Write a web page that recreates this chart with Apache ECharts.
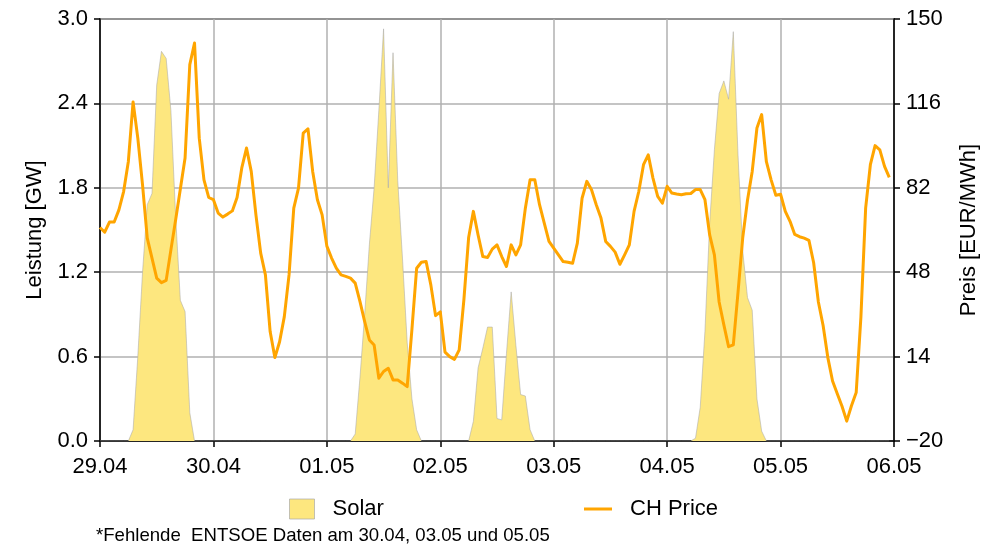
<!DOCTYPE html>
<html>
<head>
<meta charset="utf-8">
<script src="https://cdn.jsdelivr.net/npm/echarts@6/dist/echarts.min.js"></script>
<style>
html,body{margin:0;padding:0;background:#fff;}
#chart{width:995px;height:547px;}
</style>
</head>
<body>
<div id="chart"></div>
<script>
// x tick labels (one per day, 24 hourly steps apart)
const dayLabels = ['29.04','30.04','01.05','02.05','03.05','04.05','05.05','06.05'];

// Solar generation [GW], hourly, per day
const solar_2904 = [0,0,0,0,0,0,0,0.08,0.6,1.2,1.68,1.76,2.53,2.77,2.72,2.35,1.6,1.0,0.92,0.2,0,0,0,0];
const solar_3004 = [0,0,0,0,0,0,0,0,0,0,0,0,0,0,0,0,0,0,0,0,0,0,0,0];
const solar_0105 = [0,0,0,0,0,0,0.05,0.45,0.9,1.4,1.8,2.35,2.93,1.8,2.76,1.85,1.3,0.7,0.3,0.08,0,0,0,0];
const solar_0205 = [0,0,0,0,0,0,0,0.14,0.52,0.66,0.81,0.81,0.16,0.15,0.62,1.06,0.68,0.33,0.32,0.08,0,0,0,0];
const solar_0305 = [0,0,0,0,0,0,0,0,0,0,0,0,0,0,0,0,0,0,0,0,0,0,0,0];
const solar_0405 = [0,0,0,0,0,0,0.02,0.24,0.78,1.55,2.07,2.47,2.56,2.43,2.91,2.03,1.35,1.02,0.93,0.3,0.07,0,0,0];
const solar_0505 = [0,0,0,0,0,0,0,0,0,0,0,0,0,0,0,0,0,0,0,0,0,0,0,0];

// CH day-ahead price [EUR/MWh], hourly, per day
const price_2904 = [66.0,64.1,68.2,68.2,73.1,80.5,92.6,116.6,102,83.2,61.7,53.7,45.6,43.8,44.7,57,69,81.5,94,131.6,140.3,102,85.2,78.1];
const price_3004 = [77.2,71.8,70.2,71.4,72.7,78.1,90,98,88.6,71,55.7,46.9,24.1,13.6,20,30.1,46.9,73.8,81.9,104,105.8,88.6,77.2,71.1];
const price_0105 = [58.5,53.7,49.6,46.9,46.3,45.6,43.6,36.2,28.1,20.7,18.7,5.3,8.0,9.3,4.6,4.6,3.3,1.9,25,49.6,52,52.3,42.9,30.5];
const price_0205 = [32,15.8,14,12.9,16.7,37,62,72.5,63,54.3,53.9,57.3,59,54.3,50.3,59,55,59,73.8,85.2,85.2,75.2,67.8,60.4];
const price_0305 = [57.7,55,52.3,52,51.6,59.7,77.8,84.6,81.2,75.2,69.8,60.4,58.4,56.1,51.2,55,59,72.5,80.5,91.3,95.3,85.9,78.5,75.8];
const price_0405 = [82.6,79.9,79.5,79.2,79.6,79.7,81.3,81.3,77.2,63,55,36,26.8,18,18.7,40,62,77,88.6,106.1,111.5,92.5,85.2,79];
const price_0505 = [79.4,72.5,68.5,63.2,62.3,61.7,60.8,51.8,36,26.5,13.6,4.2,-1,-6,-12,-5.8,-0.5,30,73.8,91.3,99,97.3,90.6,86.2];

const solar = [].concat(solar_2904, solar_3004, solar_0105, solar_0205, solar_0305, solar_0405, solar_0505);
const price = [].concat(price_2904, price_3004, price_0105, price_0205, price_0305, price_0405, price_0505);

const solarData = solar.map((v, i) => [i, v]);
const priceData = price.map((v, i) => [i, v]);

const FONT = "'Liberation Sans', Arial, sans-serif";
const chart = echarts.init(document.getElementById('chart'), null, {renderer: 'canvas'});

chart.setOption({
  animation: false,
  backgroundColor: '#ffffff',
  textStyle: {fontFamily: FONT, color: '#000'},
  grid: {left: 100, right: 101, top: 19, bottom: 106, show: true, borderColor: '#000', borderWidth: 1.5, backgroundColor: 'transparent'},
  title: {
    text: '*Fehlende  ENTSOE Daten am 30.04, 03.05 und 05.05',
    left: 96, top: 526, padding: 0,
    textStyle: {fontFamily: FONT, fontSize: 18.6, fontWeight: 'normal', color: '#000'}
  },
  legend: [
    {
      data: [{name: 'Solar', icon: 'rect', itemStyle: {color: '#fde77f', borderColor: 'rgba(170,170,170,0.7)', borderWidth: 1}}],
      left: 289, top: 498, itemWidth: 25, itemHeight: 20, padding: 0,
      textStyle: {fontFamily: FONT, fontSize: 22, color: '#000', padding: [0, 0, 0, 13]}
    },
    {
      data: [{name: 'CH Price', icon: 'rect', itemStyle: {color: '#ffa500'}}],
      left: 584, top: 498, itemWidth: 28, itemHeight: 3, padding: 0,
      textStyle: {fontFamily: FONT, fontSize: 22, color: '#000', padding: [0, 0, 0, 13]}
    }
  ],
  xAxis: {
    type: 'value', min: 0, max: 168, interval: 24,
    axisLine: {show: true, lineStyle: {color: '#000', width: 1.5}},
    axisTick: {show: true, inside: false, length: 6, lineStyle: {color: '#000', width: 1.5}},
    axisLabel: {margin: 15, fontSize: 22, fontFamily: FONT, color: '#000',
      formatter: v => dayLabels[Math.round(v / 24)]},
    splitLine: {show: true, lineStyle: {color: '#b0b0b0', width: 1.5}}
  },
  yAxis: [
    {
      type: 'value', min: 0, max: 3, interval: 0.6, position: 'left',
      name: 'Leistung [GW]', nameLocation: 'middle', nameGap: 54,
      nameTextStyle: {fontSize: 22, fontFamily: FONT, color: '#000'},
      axisLine: {show: true, lineStyle: {color: '#000', width: 1.5}},
      axisTick: {show: true, inside: false, length: 6, lineStyle: {color: '#000', width: 1.5}},
      axisLabel: {margin: 12, fontSize: 22, fontFamily: FONT, color: '#000', formatter: v => v.toFixed(1)},
      splitLine: {show: true, lineStyle: {color: '#b0b0b0', width: 1.5}}
    },
    {
      type: 'value', min: -20, max: 150, interval: 34, position: 'right',
      name: 'Preis [EUR/MWh]', nameLocation: 'middle', nameGap: 64,
      nameTextStyle: {fontSize: 22, fontFamily: FONT, color: '#000'},
      axisLine: {show: true, lineStyle: {color: '#000', width: 1.5}},
      axisTick: {show: true, inside: false, length: 6, lineStyle: {color: '#000', width: 1.5}},
      axisLabel: {margin: 12, fontSize: 22, fontFamily: FONT, color: '#000',
        formatter: v => (v < 0 ? '\u2212' + Math.abs(v) : String(v))},
      splitLine: {show: false}
    }
  ],
  series: [
    {
      name: 'Solar', type: 'line', yAxisIndex: 0, data: solarData,
      showSymbol: false, symbol: 'none', z: 2,
      lineStyle: {color: 'rgba(170,170,170,0.7)', width: 0.8},
      itemStyle: {color: '#fde77f'},
      areaStyle: {color: '#fde77f', opacity: 1}
    },
    {
      name: 'CH Price', type: 'line', yAxisIndex: 1, data: priceData,
      showSymbol: false, symbol: 'none', z: 3,
      lineStyle: {color: '#ffa500', width: 3, join: 'round'},
      itemStyle: {color: '#ffa500'}
    }
  ]
});
</script>
</body>
</html>
